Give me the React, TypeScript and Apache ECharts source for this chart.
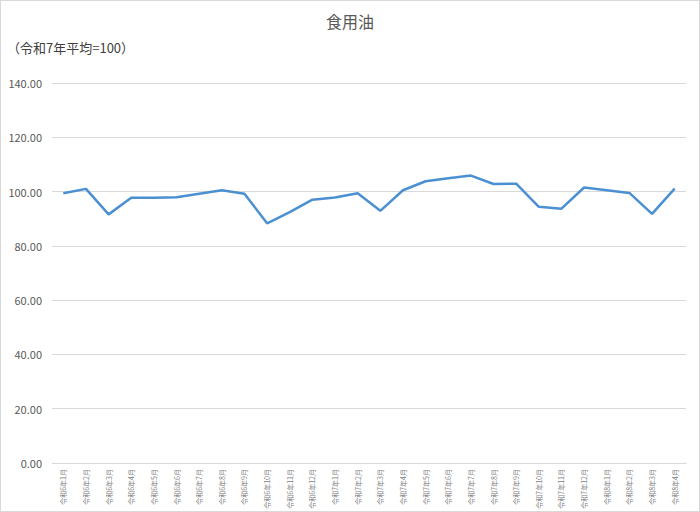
import React, { useEffect, useRef } from "react";
import * as echarts from "echarts";

const months: string[] = [
  "令和6年1月", "令和6年2月", "令和6年3月", "令和6年4月", "令和6年5月", "令和6年6月",
  "令和6年7月", "令和6年8月", "令和6年9月", "令和6年10月", "令和6年11月", "令和6年12月",
  "令和7年1月", "令和7年2月", "令和7年3月", "令和7年4月", "令和7年5月", "令和7年6月",
  "令和7年7月", "令和7年8月", "令和7年9月", "令和7年10月", "令和7年11月", "令和7年12月",
  "令和8年1月", "令和8年2月", "令和8年3月", "令和8年4月",
];

const oilIndex: number[] = [
  99.4, 101.0, 91.6, 97.7, 97.7, 97.9, 99.2, 100.5, 99.2, 88.3, 92.4, 97.0,
  97.8, 99.4, 92.9, 100.5, 103.8, 104.9, 105.9, 102.8, 102.9, 94.4, 93.7, 101.5,
  100.5, 99.5, 91.8, 101.1,
];

const chartTitle = "食用油";
const unitNote = "（令和7年平均=100）";

const App: React.FC = () => {
  const chartRef = useRef<HTMLDivElement>(null);

  useEffect(() => {
    const chart = echarts.init(chartRef.current!, undefined, { renderer: "svg" });
    const font = "'Noto Sans CJK JP', 'Noto Sans', sans-serif";
    chart.setOption({
      animation: false,
      textStyle: { fontFamily: font },
      title: [
        {
          text: chartTitle,
          left: "center",
          top: 7,
          textStyle: { fontSize: 16, fontWeight: "normal", color: "#595959", fontFamily: font },
        },
        {
          text: unitNote,
          left: 1,
          top: 35,
          textStyle: { fontSize: 13, fontWeight: "normal", color: "#404040", fontFamily: font },
        },
      ],
      grid: {
        left: 51,
        right: 13,
        top: 82,
        bottom: 48,
        containLabel: false,
        outerBoundsMode: "none",
      },
      xAxis: {
        type: "category",
        data: months,
        boundaryGap: true,
        axisLine: { lineStyle: { color: "#d9d9d9", width: 1 } },
        axisTick: { show: false },
        axisLabel: {
          interval: 0,
          rotate: 90,
          fontSize: 7,
          color: "#808080",
          margin: 6,
          fontFamily: font,
        },
      },
      yAxis: {
        type: "value",
        min: 0,
        max: 140,
        interval: 20,
        axisLine: { show: false },
        axisTick: { show: false },
        splitLine: { lineStyle: { color: "#d9d9d9", width: 1 } },
        axisLabel: {
          formatter: (v: number) => v.toFixed(2),
          fontSize: 11,
          color: "#595959",
          margin: 10,
          fontFamily: font,
        },
      },
      series: [
        {
          type: "line",
          data: oilIndex,
          symbol: "none",
          lineStyle: { color: "#4a90d2", width: 2.5 },
        },
      ],
    });
    return () => chart.dispose();
  }, []);

  return (
    <div
      ref={chartRef}
      style={{
        position: "absolute",
        left: 0,
        top: 0,
        width: 700,
        height: 512,
        boxSizing: "border-box",
        border: "1px solid #d9d9d9",
        background: "#fff",
      }}
    />
  );
};

export default App;
